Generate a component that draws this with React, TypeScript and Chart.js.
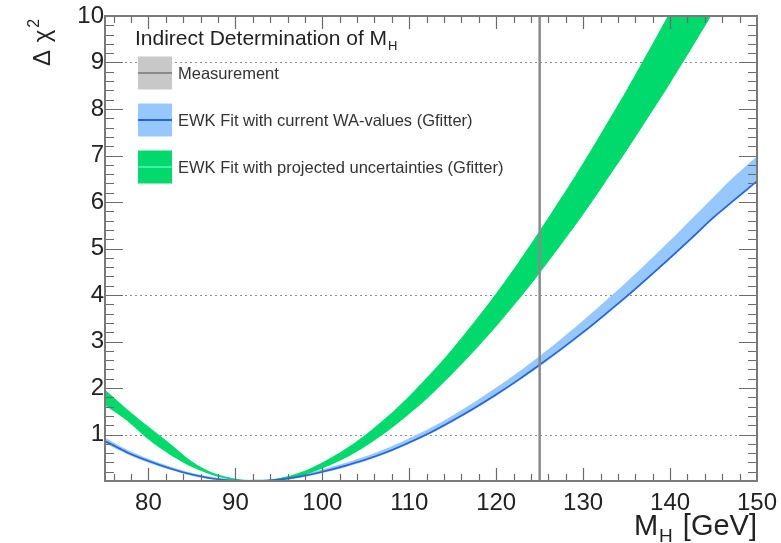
import React, { useEffect, useRef } from 'react';
import { Chart, registerables } from 'chart.js';

Chart.register(...registerables);

// ---- data ----
const massGrid = [75, 77.5, 80, 82.5, 85, 87.5, 90, 92.5, 95, 97.5, 100, 102.5, 105, 107.5, 110, 112.5, 115, 117.5, 120, 122.5, 125, 127.5, 130, 132.5, 135, 137.5, 140, 142.5, 145, 147.5, 150];

const blueCentral = [0.86, 0.62, 0.43, 0.27, 0.14, 0.05, 0.01, 0.0, 0.03, 0.1, 0.2, 0.32, 0.46, 0.63, 0.83, 1.05, 1.3, 1.57, 1.86, 2.17, 2.5, 2.84, 3.2, 3.58, 3.97, 4.38, 4.8, 5.23, 5.67, 6.06, 6.45];
const blueUpper = [0.93, 0.68, 0.48, 0.31, 0.17, 0.08, 0.04, 0.03, 0.06, 0.14, 0.25, 0.38, 0.53, 0.71, 0.92, 1.15, 1.41, 1.7, 2.01, 2.34, 2.69, 3.06, 3.45, 3.86, 4.28, 4.72, 5.17, 5.64, 6.11, 6.57, 6.98];
const blueLower = [0.81, 0.58, 0.39, 0.24, 0.11, 0.03, 0.0, 0.0, 0.01, 0.07, 0.17, 0.29, 0.43, 0.6, 0.8, 1.02, 1.27, 1.54, 1.83, 2.14, 2.46, 2.81, 3.17, 3.55, 3.94, 4.35, 4.77, 5.2, 5.64, 6.03, 6.42];

const greenUpper = [1.96, 1.55, 1.17, 0.8, 0.42, 0.17, 0.05, 0.0, 0.06, 0.19, 0.4, 0.67, 1.0, 1.39, 1.83, 2.32, 2.85, 3.43, 4.04, 4.69, 5.38, 6.1, 6.84, 7.62, 8.41, 9.24, 10.09, 10.96, 11.85, 12.75, 13.68];
const greenLower = [1.63, 1.3, 0.89, 0.56, 0.3, 0.12, 0.02, 0.0, 0.02, 0.11, 0.27, 0.48, 0.75, 1.07, 1.44, 1.85, 2.31, 2.8, 3.32, 3.88, 4.47, 5.09, 5.73, 6.41, 7.1, 7.82, 8.55, 9.31, 10.09, 10.88, 11.68];

const measurementMH = 125;
const xTickValues = [80, 90, 100, 110, 120, 130, 140, 150];
const yTickValues = [1, 2, 3, 4, 5, 6, 7, 8, 9, 10];
const sigmaLevels = [1, 4, 9];

const legendTitle = 'Indirect Determination of M';
const legendTitleSub = 'H';
const legendLabels = [
  'Measurement',
  'EWK Fit with current WA-values (Gfitter)',
  'EWK Fit with projected uncertainties (Gfitter)',
];

const FONT = '"Liberation Sans", Arial, Helvetica, sans-serif';

const COLORS = {
  green: '#00d96c',
  greenLine: '#40f0a0',
  blueBand: '#96c8ff',
  blueLine: '#2563d6',
  measBand: '#c8c8c8',
  measLine: '#8a8a8a',
  frame: '#7a7a7a',
  text: '#222222',
};

const toPoints = (ys: number[]) => massGrid.map((x, i) => ({ x, y: ys[i] }));

const decorPlugin = {
  id: 'rootDecor',
  beforeDatasetsDraw(chart: any) {
    const { ctx, chartArea: a, scales } = chart;
    const y = scales.y;
    ctx.save();
    ctx.strokeStyle = '#8c8c8c';
    ctx.lineWidth = 1;
    ctx.setLineDash([2, 3]);
    sigmaLevels.forEach((v) => {
      const py = Math.round(y.getPixelForValue(v)) + 0.5;
      ctx.beginPath();
      ctx.moveTo(a.left, py);
      ctx.lineTo(a.right, py);
      ctx.stroke();
    });
    ctx.restore();
  },
  afterDatasetsDraw(chart: any) {
    const { ctx, chartArea: a, scales } = chart;
    const x = scales.x;
    const y = scales.y;
    ctx.save();

    // inward ticks on all four sides
    ctx.strokeStyle = '#6a6a6a';
    ctx.lineWidth = 1.2;
    ctx.beginPath();
    for (let v = 76; v < 150; v += 2) {
      const px = Math.round(x.getPixelForValue(v)) + 0.5;
      const len = v % 10 === 0 ? 13 : 7;
      ctx.moveTo(px, a.bottom);
      ctx.lineTo(px, a.bottom - len);
      ctx.moveTo(px, a.top);
      ctx.lineTo(px, a.top + len);
    }
    for (let i = 1; i < 50; i++) {
      const py = Math.round(y.getPixelForValue(i / 5)) + 0.5;
      const len = i % 5 === 0 ? 18 : 9;
      ctx.moveTo(a.left, py);
      ctx.lineTo(a.left + len, py);
      ctx.moveTo(a.right, py);
      ctx.lineTo(a.right - len, py);
    }
    ctx.stroke();

    // frame
    ctx.strokeStyle = COLORS.frame;
    ctx.lineWidth = 2;
    ctx.strokeRect(a.left, a.top, a.right - a.left, a.bottom - a.top);

    ctx.fillStyle = COLORS.text;

    // x-axis title: M_H [GeV]
    ctx.textBaseline = 'alphabetic';
    ctx.font = `29px ${FONT}`;
    ctx.textAlign = 'right';
    const base = 535;
    ctx.fillText('[GeV]', a.right, base);
    const wGeV = ctx.measureText('[GeV]').width;
    const wSpace = ctx.measureText(' ').width;
    ctx.font = `19px ${FONT}`;
    const hEnd = a.right - wGeV - wSpace - 2;
    ctx.fillText('H', hEnd, base + 7);
    const wH = ctx.measureText('H').width;
    ctx.font = `29px ${FONT}`;
    ctx.fillText('M', hEnd - wH - 1, base);

    // y-axis title: Δ χ²
    ctx.save();
    ctx.translate(50, 66);
    ctx.rotate(-Math.PI / 2);
    ctx.textAlign = 'left';
    ctx.font = `24px ${FONT}`;
    ctx.fillText('Δ', 0, 0);
    const wD = ctx.measureText('Δ ').width;
    ctx.fillText('χ', wD + 1, 0);
    const wChi = ctx.measureText('χ').width;
    ctx.font = `16px ${FONT}`;
    ctx.fillText('2', wD + wChi + 3, -11);
    ctx.restore();

    // legend
    ctx.textAlign = 'left';
    ctx.textBaseline = 'alphabetic';
    ctx.font = `21px ${FONT}`;
    ctx.fillStyle = COLORS.text;
    ctx.fillText(legendTitle, 135, 45);
    const wT = ctx.measureText(legendTitle).width;
    ctx.font = `13px ${FONT}`;
    ctx.fillText(legendTitleSub, 135 + wT + 1, 50);

    const entries = [
      { fill: COLORS.measBand, line: COLORS.measLine, cy: 73 },
      { fill: COLORS.blueBand, line: COLORS.blueLine, cy: 120 },
      { fill: COLORS.green, line: COLORS.greenLine, cy: 167 },
    ];
    entries.forEach((e, i) => {
      ctx.fillStyle = e.fill;
      ctx.fillRect(138, e.cy - 16.5, 34, 33);
      ctx.strokeStyle = e.line;
      ctx.lineWidth = 2;
      ctx.beginPath();
      ctx.moveTo(138, e.cy);
      ctx.lineTo(172, e.cy);
      ctx.stroke();
      ctx.fillStyle = '#333333';
      ctx.font = `16.5px ${FONT}`;
      ctx.textBaseline = 'middle';
      ctx.fillText(legendLabels[i], 178, e.cy + 1);
    });

    ctx.restore();
  },
};

export default function App() {
  const canvasRef = useRef<HTMLCanvasElement | null>(null);

  useEffect(() => {
    document.body.style.margin = '0';
    const canvas = canvasRef.current;
    if (!canvas) return;

    const chart = new Chart(canvas, {
      type: 'line',
      data: {
        datasets: [
          {
            label: 'Measurement',
            data: [
              { x: measurementMH, y: 0 },
              { x: measurementMH, y: 10 },
            ],
            borderColor: '#8a8a8a',
            borderWidth: 2.5,
            pointRadius: 0,
            fill: false,
            order: 0,
          },
          {
            label: 'EWK fit (current)',
            data: toPoints(blueCentral),
            borderColor: COLORS.blueLine,
            borderWidth: 1.6,
            pointRadius: 0,
            tension: 0.3,
            fill: false,
            order: 1,
          },
          {
            label: 'EWK fit (projected) upper',
            data: toPoints(greenUpper),
            borderWidth: 0,
            borderColor: 'rgba(0,0,0,0)',
            backgroundColor: COLORS.green,
            pointRadius: 0,
            tension: 0.3,
            fill: '+1',
            order: 2,
          },
          {
            label: 'EWK fit (projected) lower',
            data: toPoints(greenLower),
            borderWidth: 0,
            borderColor: 'rgba(0,0,0,0)',
            pointRadius: 0,
            tension: 0.3,
            fill: false,
            order: 3,
          },
          {
            label: 'EWK fit (current) upper',
            data: toPoints(blueUpper),
            borderWidth: 0,
            borderColor: 'rgba(0,0,0,0)',
            backgroundColor: COLORS.blueBand,
            pointRadius: 0,
            tension: 0.3,
            fill: '+1',
            order: 4,
          },
          {
            label: 'EWK fit (current) lower',
            data: toPoints(blueLower),
            borderWidth: 0,
            borderColor: 'rgba(0,0,0,0)',
            pointRadius: 0,
            tension: 0.3,
            fill: false,
            order: 5,
          },
        ],
      },
      options: {
        responsive: false,
        animation: false,
        devicePixelRatio: 1,
        events: [],
        layout: { padding: { top: 16, right: 24, left: 0, bottom: 0 } },
        plugins: {
          legend: { display: false },
          tooltip: { enabled: false },
          title: { display: false },
        },
        scales: {
          x: {
            type: 'linear',
            min: 75,
            max: 150,
            grid: { display: false, drawTicks: false },
            border: { display: false },
            afterBuildTicks: (s: any) => {
              s.ticks = xTickValues.map((v) => ({ value: v }));
            },
            afterFit: (s: any) => {
              s.height = 62;
              s.paddingLeft = 0;
              s.paddingRight = 0;
            },
            ticks: {
              padding: 8,
              maxRotation: 0,
              autoSkip: false,
              color: COLORS.text,
              font: { family: FONT, size: 24 },
            },
          },
          y: {
            type: 'linear',
            min: 0,
            max: 10,
            grid: { display: false, drawTicks: false },
            border: { display: false },
            afterBuildTicks: (s: any) => {
              s.ticks = yTickValues.map((v) => ({ value: v }));
            },
            afterFit: (s: any) => {
              s.width = 105;
              s.paddingTop = 0;
              s.paddingBottom = 0;
            },
            ticks: {
              padding: 1,
              autoSkip: false,
              color: COLORS.text,
              font: { family: FONT, size: 24 },
            },
          },
        },
      } as any,
      plugins: [decorPlugin],
    });

    return () => chart.destroy();
  }, []);

  return (
    <div style={{ width: 781, height: 543, background: '#ffffff' }}>
      <canvas ref={canvasRef} width={781} height={543} />
    </div>
  );
}
